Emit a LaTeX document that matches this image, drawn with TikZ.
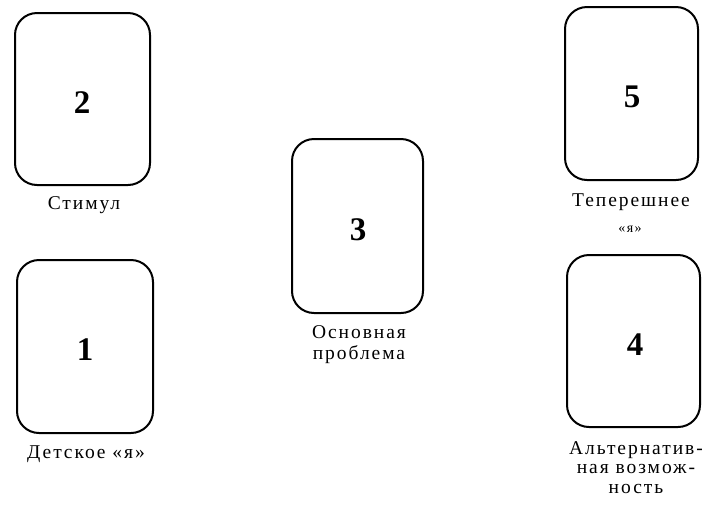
\documentclass[tikz,border=0pt]{standalone}
\usepackage{fontspec}
\setmainfont{Liberation Serif}
\newfontfamily\lblfont[LetterSpace=10]{Liberation Serif}
\begin{document}
\begin{tikzpicture}[x=1pt,y=-1pt,
  card/.style={draw=black, line width=2pt, rounded corners=22pt, inner sep=0pt},
  num/.style={font=\fontsize{33}{33}\selectfont\bfseries, inner sep=0pt},
  lbl/.style={font=\fontsize{19.5}{21}\selectfont\lblfont, anchor=base, inner sep=0pt},
  small/.style={font=\fontsize{14}{16}\selectfont\lblfont, anchor=base, inner sep=0pt}]
\fill[white] (0,0) rectangle (702,507);
\useasboundingbox (0,0) rectangle (702,507);
% cards
\node[card, minimum width=135pt, minimum height=172pt] (c2) at (82.5,99) {};
\node[card, minimum width=136pt, minimum height=173pt] (c1) at (85,346.5) {};
\node[card, minimum width=131pt, minimum height=174pt] (c3) at (357.5,226) {};
\node[card, minimum width=133pt, minimum height=173pt] (c5) at (631.5,93.5) {};
\node[card, minimum width=133pt, minimum height=172pt] (c4) at (633.5,341) {};
% numbers
\node[num] (n2) at (82,103) {2};
\node[num] (n1) at (85,350) {1};
\node[num] (n3) at (358,230) {3};
\node[num] (n5) at (632,97) {5};
\node[num] (n4) at (635,345) {4};
% labels
\node[lbl] (l2) at (84,209) {Стимул};
\node[lbl] (l1) at (86,458) {Детское «я»};
\node[lbl] (l3a) at (359,338) {Основная};
\node[lbl] (l3b) at (359,359) {проблема};
\node[lbl] (l5a) at (631,206) {Теперешнее};
\node[small] (l5b) at (630,232) {«я»};
\node[lbl] (l4a) at (636,454) {Альтернатив-};
\node[lbl] (l4b) at (636,473) {ная возмож-};
\node[lbl] (l4c) at (636,493) {ность};
\end{tikzpicture}
\end{document}
